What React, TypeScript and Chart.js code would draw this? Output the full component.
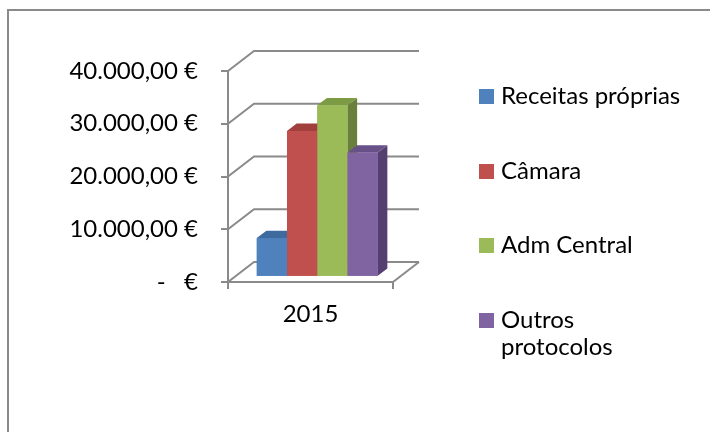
import React, { useEffect, useRef } from "react";
import { Chart, registerables } from "chart.js";

Chart.register(...registerables);

// ---- data ----
const categories = ["2015"];
const seriesNames = ["Receitas próprias", "Câmara", "Adm Central", "Outros protocolos"];
const legendLines = [["Receitas próprias"], ["Câmara"], ["Adm Central"], ["Outros", "protocolos"]];
const receitasProprias = [7350];
const camara = [27650];
const admCentral = [32500];
const outrosProtocolos = [23550];
const yTickValues = [0, 10000, 20000, 30000, 40000];

// ---- styles ----
const frontColors = ["#4F81BD", "#C0504D", "#9BBB59", "#8064A2"];
const topColors = ["#3E6A9E", "#A13F3C", "#7D9A45", "#685189"];
const sideColors = ["#345A88", "#8A3532", "#697F3B", "#553F70"];
const GRID = "#8A8A8A";
const FONT = "Lato, 'Open Sans', sans-serif";

const DEPTH_X = 26;
const DEPTH_Y = -20;
const BAR_START = 0.26;
const BAR_DEPTH = 0.37;

function fmt(v: number): string {
  if (v === 0) return "-\u00a0\u00a0\u00a0€";
  const s = Math.round(v).toString().replace(/\B(?=(\d{3})+(?!\d))/g, ".");
  return s + ",00 €";
}

const fake3d = {
  id: "fake3d",
  beforeDatasetsDraw(chart: any) {
    const { ctx, chartArea: a, scales } = chart;
    const y = scales.y;
    ctx.save();
    ctx.strokeStyle = GRID;
    ctx.lineWidth = 2;
    ctx.lineJoin = "miter";
    for (const v of yTickValues) {
      const py = y.getPixelForValue(v);
      ctx.beginPath();
      ctx.moveTo(a.left, py);
      ctx.lineTo(a.left + DEPTH_X, py + DEPTH_Y);
      ctx.lineTo(a.right + DEPTH_X, py + DEPTH_Y);
      ctx.stroke();
    }
    const py0 = y.getPixelForValue(0);
    ctx.beginPath();
    ctx.moveTo(a.right, py0);
    ctx.lineTo(a.right + DEPTH_X, py0 + DEPTH_Y);
    ctx.stroke();
    ctx.restore();
    ctx.save();
    ctx.translate(DEPTH_X * BAR_START, DEPTH_Y * BAR_START);
  },
  afterDatasetsDraw(chart: any) {
    const { ctx } = chart;
    ctx.restore();
    const ox = DEPTH_X * BAR_START;
    const oy = DEPTH_Y * BAR_START;
    const bx = DEPTH_X * BAR_DEPTH;
    const by = DEPTH_Y * BAR_DEPTH;
    ctx.save();
    ctx.translate(ox, oy);
    const n = chart.data.datasets.length;
    for (let i = 0; i < n; i++) {
      const meta = chart.getDatasetMeta(i);
      meta.data.forEach((el: any) => {
        const { x, y, width, base } = el.getProps(["x", "y", "width", "base"], true);
        const l = x - width / 2;
        const r = x + width / 2;
        ctx.fillStyle = sideColors[i];
        ctx.beginPath();
        ctx.moveTo(r, y);
        ctx.lineTo(r + bx, y + by);
        ctx.lineTo(r + bx, base + by);
        ctx.lineTo(r, base);
        ctx.closePath();
        ctx.fill();
        ctx.fillStyle = topColors[i];
        ctx.beginPath();
        ctx.moveTo(l, y);
        ctx.lineTo(r, y);
        ctx.lineTo(r + bx, y + by);
        ctx.lineTo(l + bx, y + by);
        ctx.closePath();
        ctx.fill();
        ctx.fillStyle = frontColors[i];
        ctx.fillRect(l, y, width, base - y);
      });
    }
    ctx.restore();
  },
};

export default function App() {
  const ref = useRef<HTMLCanvasElement | null>(null);

  useEffect(() => {
    if (!ref.current) return;
    const seriesValues = [receitasProprias, camara, admCentral, outrosProtocolos];
    const chart = new Chart(ref.current, {
      type: "bar",
      data: {
        labels: categories,
        datasets: seriesNames.map((name, i) => ({
          label: name,
          data: seriesValues[i],
          backgroundColor: frontColors[i],
          borderWidth: 0,
          barPercentage: 1,
          categoryPercentage: 0.733,
          clip: false as any,
        })),
      },
      options: {
        responsive: false,
        animation: false,
        layout: { padding: { left: 0, top: 71, right: 317, bottom: 100 } },
        plugins: {
          legend: { display: false },
          tooltip: { enabled: false },
        },
        scales: {
          y: {
            min: 0,
            max: 40000,
            afterBuildTicks: (scale: any) => {
              scale.ticks = yTickValues.map((v) => ({ value: v }));
            },
            afterFit: (scale: any) => {
              scale.width = 228;
            },
            ticks: {
              callback: (v: any) => fmt(Number(v)),
              color: "#000",
              font: { family: FONT, size: 24 },
              padding: 23,
            },
            grid: {
              drawOnChartArea: false,
              drawTicks: true,
              tickLength: 7,
              color: GRID,
              lineWidth: 2,
            },
            border: { display: true, color: GRID, width: 2 },
          },
          x: {
            afterFit: (scale: any) => {
              scale.height = 50;
            },
            ticks: {
              color: "#000",
              font: { family: FONT, size: 24 },
              padding: 11,
            },
            grid: {
              offset: true,
              drawOnChartArea: false,
              drawTicks: true,
              tickLength: 7,
              color: GRID,
              lineWidth: 2,
            },
            border: { display: true, color: GRID, width: 2 },
          },
        },
      },
      plugins: [fake3d],
    });
    return () => chart.destroy();
  }, []);

  const squareTops = [89, 164, 238, 313];

  return (
    <div
      style={{
        position: "absolute",
        left: 0,
        top: 0,
        width: 710,
        height: 432,
        background: "#fff",
        overflow: "hidden",
      }}
    >
      <canvas ref={ref} width={710} height={432} style={{ display: "block", position: "absolute", left: 0, top: 0 }} />
      <div
        style={{
          position: "absolute",
          left: 7,
          top: 9,
          width: 720,
          height: 440,
          borderTop: `2px solid ${GRID}`,
          borderLeft: `2px solid ${GRID}`,
          pointerEvents: "none",
        }}
      />
      {legendLines.map((lines, i) => (
        <React.Fragment key={i}>
          <div
            style={{
              position: "absolute",
              left: 479,
              top: squareTops[i],
              width: 15,
              height: 15,
              background: frontColors[i],
            }}
          />
          <div
            style={{
              position: "absolute",
              left: 501,
              top: squareTops[i] - 8,
              fontFamily: FONT,
              fontSize: 24,
              lineHeight: "27px",
              color: "#000",
              whiteSpace: "nowrap",
            }}
          >
            {lines.map((t, j) => (
              <div key={j}>{t}</div>
            ))}
          </div>
        </React.Fragment>
      ))}
    </div>
  );
}
